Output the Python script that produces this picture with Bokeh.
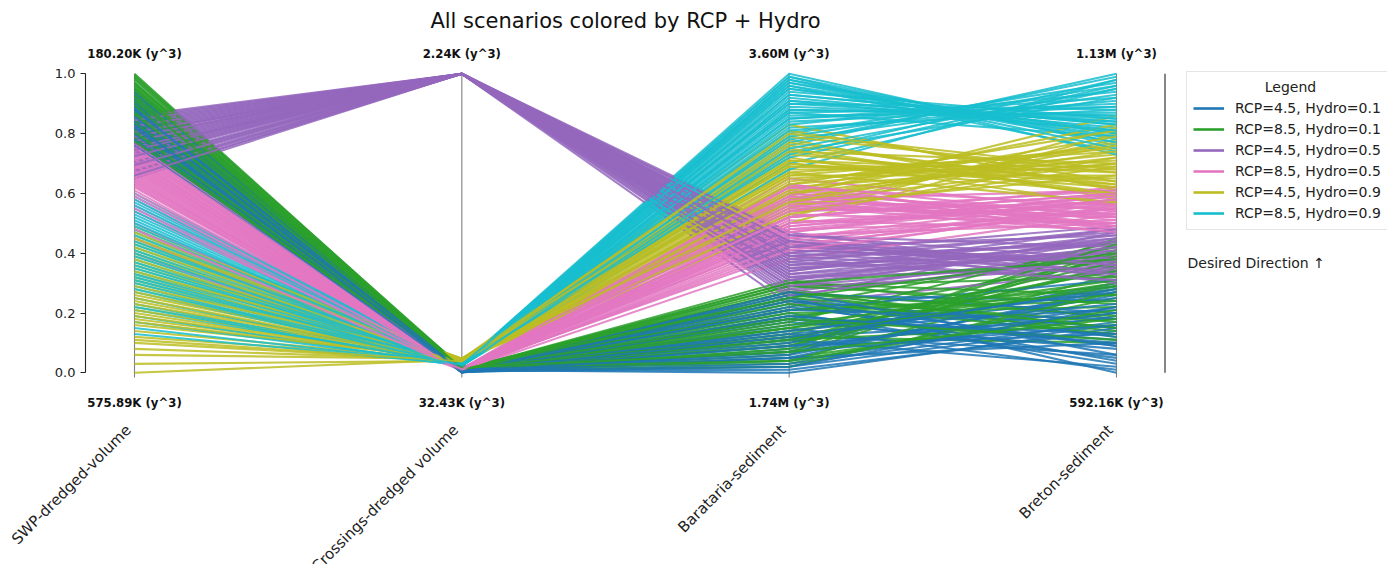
import math
from bokeh.plotting import figure
from bokeh.models import (ColumnDataSource, LinearAxis, FixedTicker, Legend, LegendItem,
                          Range1d, NumeralTickFormatter)
from bokeh.core.properties import value
from bokeh.embed import file_html
from bokeh.resources import INLINE

# ---------------------------------------------------------------- data
TITLE = "All scenarios colored by RCP + Hydro"
AXIS_NAMES = ["SWP-dredged-volume", "Crossings-dredged volume", "Barataria-sediment", "Breton-sediment"]
TOP_LABELS = ["180.20K (y^3)", "2.24K (y^3)", "3.60M (y^3)", "1.13M (y^3)"]
BOTTOM_LABELS = ["575.89K (y^3)", "32.43K (y^3)", "1.74M (y^3)", "592.16K (y^3)"]
Y_TICKS = [0.0, 0.2, 0.4, 0.6, 0.8, 1.0]
SCENARIOS = ["RCP=4.5, Hydro=0.1", "RCP=8.5, Hydro=0.1", "RCP=4.5, Hydro=0.5",
             "RCP=8.5, Hydro=0.5", "RCP=4.5, Hydro=0.9", "RCP=8.5, Hydro=0.9"]
LEGEND_TITLE = "Legend"
DIRECTION_NOTE = "Desired Direction \u2191"

# normalised values on each axis (0 = bottom, 1 = top)
BLUE_SWP = [0.95, 0.93, 0.91, 0.90, 0.89, 0.88, 0.87, 0.86, 0.85, 0.84, 0.83, 0.82,
            0.82, 0.81, 0.80, 0.80, 0.79, 0.78, 0.78, 0.77, 0.86, 0.88, 0.84, 0.91,
            0.93, 0.87, 0.83, 0.79, 0.90, 0.85, 0.81, 0.76,
            0.94, 0.92, 0.89, 0.86, 0.84, 0.82, 0.80, 0.78, 0.88, 0.83]
BLUE_CROSS = [0.004, 0.002, 0.006, 0.001, 0.008, 0.003, 0.005, 0.010, 0.002, 0.007, 0.004, 0.009,
              0.001, 0.006, 0.003, 0.011, 0.005, 0.002, 0.008, 0.004, 0.006, 0.003, 0.007, 0.005,
              0.002, 0.007, 0.004, 0.009, 0.003, 0.006, 0.001, 0.008,
              0.005, 0.003, 0.008, 0.002, 0.006, 0.004, 0.009, 0.001, 0.007, 0.005]
BLUE_BARA = [0.02, 0.15, 0.25, 0.08, 0.18, 0.05, 0.22, 0.12, 0.27, 0.01, 0.10, 0.20,
             0.14, 0.04, 0.24, 0.17, 0.07, 0.19, 0.11, 0.26, 0.13, 0.03, 0.21, 0.09,
             0.16, 0.06, 0.23, 0.00, 0.19, 0.11, 0.25, 0.13,
             0.05, 0.21, 0.14, 0.27, 0.09, 0.18, 0.02, 0.24, 0.12, 0.07]
BLUE_BRET = [0.16, 0.01, 0.12, 0.22, 0.05, 0.28, 0.09, 0.18, 0.20, 0.14, 0.30, 0.03,
             0.25, 0.19, 0.15, 0.08, 0.26, 0.11, 0.02, 0.24, 0.06, 0.17, 0.31, 0.13,
             0.21, 0.27, 0.04, 0.15, 0.10, 0.29, 0.00, 0.23,
             0.10, 0.18, 0.27, 0.06, 0.20, 0.13, 0.22, 0.09, 0.28, 0.16]

GREEN_SWP = [1.00, 0.99, 0.98, 0.97, 0.96, 0.95, 0.94, 0.93, 0.92, 0.91, 0.90, 0.89,
             0.88, 0.87, 0.86, 0.85, 0.84, 0.83, 0.82, 0.81, 0.80, 0.79, 0.78, 0.97,
             0.995, 0.965, 0.935, 0.905, 0.875, 0.845, 0.815, 0.785,
             0.985, 0.955, 0.925, 0.895, 0.865, 0.835, 0.805, 0.775, 0.945, 0.915]
GREEN_CROSS = [0.012, 0.018, 0.008, 0.015, 0.010, 0.020, 0.006, 0.014, 0.011, 0.017, 0.009, 0.013,
               0.016, 0.007, 0.012, 0.019, 0.010, 0.015, 0.008, 0.013, 0.011, 0.016, 0.009, 0.014,
               0.010, 0.017, 0.013, 0.008, 0.015, 0.011, 0.019, 0.012,
               0.014, 0.009, 0.016, 0.012, 0.018, 0.010, 0.013, 0.015, 0.011, 0.017]
GREEN_BARA = [0.28, 0.10, 0.05, 0.22, 0.31, 0.15, 0.08, 0.26, 0.18, 0.03, 0.12, 0.29,
              0.20, 0.06, 0.24, 0.14, 0.30, 0.09, 0.17, 0.27, 0.04, 0.21, 0.11, 0.19,
              0.13, 0.25, 0.07, 0.29, 0.16, 0.02, 0.23, 0.11,
              0.21, 0.09, 0.27, 0.15, 0.04, 0.30, 0.18, 0.12, 0.25, 0.07]
GREEN_BRET = [0.12, 0.35, 0.20, 0.42, 0.18, 0.28, 0.45, 0.15, 0.38, 0.25, 0.10, 0.32,
              0.22, 0.40, 0.14, 0.30, 0.26, 0.36, 0.44, 0.19, 0.33, 0.24, 0.16, 0.29,
              0.37, 0.17, 0.41, 0.23, 0.31, 0.27, 0.13, 0.39,
              0.26, 0.43, 0.15, 0.34, 0.21, 0.38, 0.11, 0.29, 0.40, 0.18]

PURPLE_SWP = [0.86, 0.85, 0.84, 0.83, 0.82, 0.81, 0.80, 0.79, 0.78, 0.77, 0.76, 0.75,
              0.74, 0.73, 0.72, 0.71, 0.70, 0.69, 0.68, 0.67, 0.66, 0.65, 0.80, 0.75,
              0.855, 0.835, 0.815, 0.785, 0.765, 0.735, 0.705, 0.675,
              0.845, 0.825, 0.805, 0.79, 0.775, 0.755, 0.745, 0.725, 0.695, 0.66]
PURPLE_CROSS = [1.0, 1.0, 1.0, 1.0, 1.0, 1.0, 1.0, 1.0, 1.0, 1.0, 1.0, 1.0,
                1.0, 1.0, 1.0, 1.0, 1.0, 1.0, 1.0, 1.0, 1.0, 1.0, 1.0, 1.0,
                1.0, 1.0, 1.0, 1.0, 1.0, 1.0, 1.0, 1.0,
                1.0, 1.0, 1.0, 1.0, 1.0, 1.0, 1.0, 1.0, 1.0, 1.0]
PURPLE_BARA = [0.45, 0.30, 0.38, 0.25, 0.42, 0.33, 0.47, 0.36, 0.28, 0.40, 0.44, 0.31,
               0.35, 0.23, 0.39, 0.43, 0.27, 0.34, 0.41, 0.37, 0.32, 0.46, 0.29, 0.38,
               0.41, 0.36, 0.44, 0.32, 0.39, 0.26, 0.43, 0.35,
               0.33, 0.40, 0.29, 0.46, 0.37, 0.42, 0.31, 0.44, 0.34, 0.39]
PURPLE_BRET = [0.35, 0.42, 0.31, 0.47, 0.38, 0.44, 0.33, 0.40, 0.36, 0.49, 0.32, 0.45,
               0.39, 0.34, 0.43, 0.30, 0.41, 0.46, 0.37, 0.48, 0.35, 0.42, 0.38, 0.44,
               0.37, 0.45, 0.33, 0.41, 0.47, 0.39, 0.36, 0.43,
               0.40, 0.34, 0.44, 0.38, 0.31, 0.46, 0.42, 0.36, 0.48, 0.33]

PINK_SWP = [0.77, 0.76, 0.75, 0.74, 0.73, 0.72, 0.71, 0.70, 0.69, 0.68, 0.67, 0.66,
            0.65, 0.64, 0.63, 0.62, 0.61, 0.60, 0.58, 0.56, 0.54, 0.50, 0.45, 0.40,
            0.765, 0.745, 0.725, 0.705, 0.685, 0.665, 0.645, 0.625,
            0.755, 0.735, 0.715, 0.695, 0.675, 0.655, 0.635, 0.59, 0.55, 0.48]
PINK_CROSS = [0.010, 0.006, 0.014, 0.008, 0.012, 0.005, 0.016, 0.009, 0.011, 0.007, 0.013, 0.010,
              0.006, 0.015, 0.008, 0.012, 0.009, 0.011, 0.007, 0.014, 0.010, 0.008, 0.013, 0.009,
              0.011, 0.007, 0.013, 0.009, 0.012, 0.008, 0.010, 0.014,
              0.009, 0.012, 0.007, 0.014, 0.010, 0.006, 0.013, 0.011, 0.008, 0.012]
PINK_BARA = [0.55, 0.48, 0.62, 0.44, 0.58, 0.51, 0.40, 0.60, 0.47, 0.53, 0.65, 0.42,
             0.56, 0.49, 0.61, 0.45, 0.52, 0.57, 0.38, 0.54, 0.46, 0.59, 0.50, 0.63,
             0.57, 0.52, 0.48, 0.60, 0.45, 0.55, 0.62, 0.50,
             0.49, 0.59, 0.43, 0.54, 0.63, 0.47, 0.56, 0.41, 0.58, 0.52]
PINK_BRET = [0.52, 0.58, 0.49, 0.55, 0.61, 0.48, 0.56, 0.53, 0.60, 0.50, 0.54, 0.57,
             0.47, 0.59, 0.51, 0.55, 0.62, 0.49, 0.53, 0.57, 0.50, 0.48, 0.56, 0.52,
             0.55, 0.60, 0.51, 0.49, 0.58, 0.53, 0.56, 0.59,
             0.57, 0.50, 0.54, 0.61, 0.48, 0.58, 0.52, 0.55, 0.47, 0.60]

OLIVE_SWP = [0.49, 0.46, 0.43, 0.41, 0.39, 0.37, 0.35, 0.33, 0.31, 0.30, 0.28, 0.26,
             0.24, 0.22, 0.20, 0.18, 0.16, 0.14, 0.12, 0.10, 0.08, 0.06, 0.03, 0.00,
             0.47, 0.44, 0.40, 0.36, 0.32, 0.27, 0.23, 0.19,
             0.48, 0.45, 0.42, 0.38, 0.34, 0.29, 0.25, 0.21, 0.17, 0.11]
OLIVE_CROSS = [0.045, 0.040, 0.048, 0.038, 0.044, 0.042, 0.036, 0.047, 0.041, 0.043, 0.039, 0.046,
               0.040, 0.044, 0.037, 0.042, 0.048, 0.041, 0.045, 0.039, 0.043, 0.046, 0.040, 0.044,
               0.043, 0.047, 0.040, 0.045, 0.042, 0.038, 0.046, 0.041,
               0.044, 0.041, 0.046, 0.039, 0.043, 0.047, 0.040, 0.045, 0.042, 0.038]
OLIVE_BARA = [0.62, 0.70, 0.55, 0.78, 0.66, 0.58, 0.74, 0.52, 0.68, 0.81, 0.60, 0.72,
              0.64, 0.57, 0.76, 0.50, 0.69, 0.63, 0.83, 0.59, 0.71, 0.66, 0.54, 0.75,
              0.65, 0.73, 0.58, 0.69, 0.61, 0.77, 0.67, 0.56,
              0.71, 0.60, 0.79, 0.53, 0.67, 0.74, 0.63, 0.70, 0.57, 0.80]
OLIVE_BRET = [0.70, 0.62, 0.78, 0.58, 0.66, 0.74, 0.60, 0.82, 0.68, 0.64, 0.72, 0.56,
              0.76, 0.70, 0.63, 0.80, 0.65, 0.73, 0.61, 0.86, 0.67, 0.75, 0.69, 0.59,
              0.71, 0.64, 0.77, 0.69, 0.83, 0.62, 0.74, 0.66,
              0.63, 0.79, 0.67, 0.72, 0.57, 0.70, 0.81, 0.60, 0.76, 0.68]

CYAN_SWP = [0.60, 0.57, 0.55, 0.53, 0.51, 0.49, 0.47, 0.45, 0.43, 0.41, 0.39, 0.37,
            0.35, 0.33, 0.31, 0.29, 0.27, 0.25, 0.23, 0.21, 0.19, 0.17, 0.15, 0.13,
            0.58, 0.54, 0.50, 0.46, 0.42, 0.38, 0.34, 0.30,
            0.59, 0.56, 0.52, 0.48, 0.44, 0.40, 0.36, 0.32, 0.28, 0.22]
CYAN_CROSS = [0.028, 0.024, 0.031, 0.026, 0.022, 0.030, 0.027, 0.025, 0.033, 0.023, 0.029, 0.026,
              0.032, 0.024, 0.028, 0.021, 0.030, 0.027, 0.025, 0.031, 0.023, 0.029, 0.026, 0.028,
              0.025, 0.030, 0.027, 0.023, 0.032, 0.026, 0.029, 0.024,
              0.027, 0.031, 0.024, 0.029, 0.026, 0.022, 0.030, 0.028, 0.025, 0.027]
CYAN_BARA = [1.00, 0.76, 0.92, 0.85, 0.98, 0.70, 0.88, 0.95, 0.80, 0.74, 0.96, 0.82,
             0.90, 0.68, 0.87, 0.93, 0.78, 0.99, 0.84, 0.72, 0.91, 0.86, 0.97, 0.89,
             0.94, 0.83, 0.99, 0.77, 0.90, 0.96, 0.81, 0.88,
             0.97, 0.87, 0.79, 0.93, 0.73, 0.98, 0.85, 0.91, 0.75, 0.95]
CYAN_BRET = [0.76, 1.00, 0.82, 0.90, 0.78, 0.95, 0.86, 0.80, 0.97, 0.92, 0.74, 0.88,
             0.84, 0.98, 0.79, 0.83, 0.93, 0.73, 0.89, 0.96, 0.81, 0.87, 0.77, 0.85,
             0.85, 0.94, 0.77, 0.99, 0.88, 0.79, 0.91, 0.86,
             0.80, 0.89, 0.96, 0.83, 0.98, 0.75, 0.92, 0.84, 0.95, 0.81]

# ---------------------------------------------------------------- styles / layout
COLORS = ["#1f77b4", "#2ca02c", "#9467bd", "#e377c2", "#bcbd22", "#17becf"]
FONT = "DejaVu Sans"
W, H = 1387, 564              # canvas size
YAXIS_X = 85                  # pixel x of the y axis spine
PX_X = 327.33                 # pixels between two parallel axes
PX_Y = 299.0                  # pixels for one unit of normalised value
AXIS0_X = 134.0               # pixel x of first parallel axis
ZERO_Y = 372.3                # pixel y of value 0


def at_x(px):
    return (px - AXIS0_X) / PX_X


def at_y(py):
    return (ZERO_Y - py) / PX_Y


p = figure(width=W, height=H, output_backend="svg", toolbar_location=None,
           x_range=Range1d(at_x(0), at_x(W)), y_range=Range1d(at_y(H), at_y(0)),
           x_axis_location=None, y_axis_location=None,
           min_border_left=0, min_border_right=0, min_border_top=0, min_border_bottom=0)
p.outline_line_color = None
p.xgrid.visible = False
p.ygrid.visible = False
p.background_fill_color = "white"
p.border_fill_color = "white"

# y axis (normalised), pinned inside the frame so the rotated names are not clipped
yax = LinearAxis(bounds=(0, 1), ticker=FixedTicker(ticks=Y_TICKS),
                 formatter=NumeralTickFormatter(format="0.0"), fixed_location=at_x(YAXIS_X))
yax.axis_line_color = "#222222"
yax.axis_line_width = 1.1
yax.major_tick_line_color = "#222222"
yax.major_tick_out = 5
yax.major_tick_in = 0
yax.minor_tick_out = 0
yax.minor_tick_in = 0
yax.major_label_text_font = FONT
yax.major_label_text_font_size = "13px"
yax.major_label_text_color = "#222222"
yax.major_label_standoff = 5
p.add_layout(yax, "left")

axis_idx = list(range(len(AXIS_NAMES)))
n_ax = len(axis_idx)

# vertical parallel axes
p.segment(x0=axis_idx, y0=[at_y(377)] * n_ax, x1=axis_idx, y1=[1.0] * n_ax,
          line_color="#808080", line_width=1.1)

# right spine
p.segment(x0=[at_x(1164.5)], y0=[0.0], x1=[at_x(1164.5)], y1=[1.0],
          line_color="#222222", line_width=1.1)

# data lines, interleaved across scenarios
groups = [
    (BLUE_SWP, BLUE_CROSS, BLUE_BARA, BLUE_BRET),
    (GREEN_SWP, GREEN_CROSS, GREEN_BARA, GREEN_BRET),
    (PURPLE_SWP, PURPLE_CROSS, PURPLE_BARA, PURPLE_BRET),
    (PINK_SWP, PINK_CROSS, PINK_BARA, PINK_BRET),
    (OLIVE_SWP, OLIVE_CROSS, OLIVE_BARA, OLIVE_BRET),
    (CYAN_SWP, CYAN_CROSS, CYAN_BARA, CYAN_BRET),
]
xs, ys, cols = [], [], []
nmax = max(len(g[0]) for g in groups)
for i in range(nmax):
    for gi, g in enumerate(groups):
        if i < len(g[0]):
            xs.append(axis_idx)
            ys.append([g[0][i], g[1][i], g[2][i], g[3][i]])
            cols.append(COLORS[gi])
src = ColumnDataSource(dict(xs=xs, ys=ys, color=cols))
p.multi_line(xs="xs", ys="ys", line_color="color", line_width=2.1, line_alpha=0.85, source=src)

# top / bottom value labels
p.text(x=axis_idx, y=[at_y(53)] * n_ax, text=TOP_LABELS, text_align="center",
       text_baseline="middle", text_font=value(FONT), text_font_style="bold",
       text_font_size="11.7px", text_color="#111111")
p.text(x=axis_idx, y=[at_y(402)] * n_ax, text=BOTTOM_LABELS, text_align="center",
       text_baseline="middle", text_font=value(FONT), text_font_style="bold",
       text_font_size="11.7px", text_color="#111111")

# rotated axis names (anchored at their right end)
p.text(x=[i + at_x(AXIS0_X - 6) for i in axis_idx], y=[at_y(427)] * n_ax, text=AXIS_NAMES,
       angle=math.pi / 4, text_align="right", text_baseline="middle",
       text_font=value(FONT), text_font_size="15px", text_color="#222222")

# title
p.text(x=[at_x(625)], y=[at_y(20)], text=[TITLE], text_align="center",
       text_baseline="middle", text_font=value(FONT), text_font_size="21px",
       text_color="#111111")

# desired direction note
p.text(x=[at_x(1187)], y=[at_y(262)], text=[DIRECTION_NOTE], text_align="left",
       text_baseline="middle", text_font=value(FONT), text_font_size="14px",
       text_color="#222222")

# legend (proxy renderers that draw nothing in the plot)
nan = float("nan")
items = []
for name, c in zip(SCENARIOS, COLORS):
    r = p.line(x=[nan], y=[nan], line_color=c, line_width=2.6)
    items.append(LegendItem(label=name, renderers=[r]))
legend = Legend(items=items, location=(1186, H - 230),
                title=" ", title_text_font=FONT, title_text_font_size="14px",
                title_standoff=4,
                label_text_font=FONT, label_text_font_size="14px", label_text_color="#222222",
                glyph_width=31, glyph_height=20, label_height=20, spacing=1,
                label_standoff=11, padding=6, margin=0,
                border_line_color="#cccccc", border_line_width=1,
                background_fill_color="white", background_fill_alpha=0.0)
p.add_layout(legend)
p.text(x=[at_x(1290)], y=[at_y(86)], text=[LEGEND_TITLE], text_align="center",
       text_baseline="middle", text_font=value(FONT), text_font_size="14px",
       text_color="#222222")

open("out.html", "w").write(file_html(p, INLINE))
